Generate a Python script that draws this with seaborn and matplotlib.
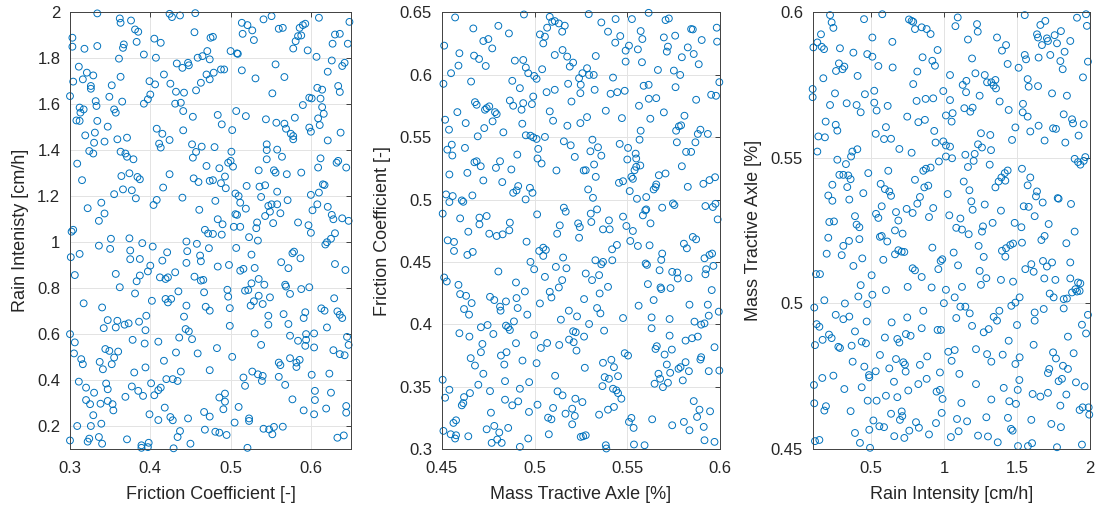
import matplotlib
matplotlib.use("Agg")
import matplotlib.pyplot as plt
from matplotlib.ticker import FuncFormatter
import seaborn as sns
import pandas as pd

# Sampled parameter sets: (friction coefficient, rain intensity)
friction_vs_rain = [
    (0.334,1.996),(0.362,1.974),(0.363,1.955),(0.376,1.965),(0.381,1.926),(0.385,1.916),(0.303,1.890),(0.303,1.851),
    (0.318,1.842),(0.334,1.854),(0.367,1.861),(0.366,1.846),(0.383,1.872),(0.405,1.886),(0.413,1.868),(0.392,1.817),
    (0.407,1.803),(0.361,1.799),(0.311,1.764),(0.321,1.738),(0.329,1.726),(0.304,1.699),(0.316,1.709),(0.326,1.680),
    (0.326,1.668),(0.352,1.683),(0.363,1.720),(0.417,1.730),(0.399,1.701),(0.406,1.687),(0.425,1.690),(0.432,1.655),
    (0.400,1.643),(0.397,1.622),(0.392,1.603),(0.300,1.636),(0.349,1.633),(0.332,1.614),(0.333,1.593),(0.365,1.612),
    (0.312,1.586),(0.317,1.578),(0.313,1.564),(0.355,1.578),(0.357,1.564),(0.308,1.530),(0.312,1.528),(0.334,1.528),
    (0.347,1.503),(0.431,1.603),(0.438,1.607),(0.441,1.571),(0.453,1.546),(0.442,1.651),(0.433,1.778),(0.440,1.759),
    (0.447,1.781),(0.448,1.770),(0.459,1.803),(0.465,1.810),(0.471,1.832),(0.474,1.796),(0.455,1.914),(0.475,1.890),
    (0.424,1.994),(0.427,1.980),(0.437,1.987),(0.456,1.997),(0.470,1.730),(0.474,1.709),(0.463,1.694),(0.457,1.661),
    (0.319,1.465),(0.331,1.477),(0.330,1.433),(0.343,1.438),(0.359,1.448),(0.371,1.455),(0.408,1.494),(0.415,1.472),
    (0.411,1.429),(0.413,1.412),(0.424,1.445),(0.441,1.487),(0.324,1.397),(0.329,1.386),(0.363,1.394),(0.369,1.386),
    (0.371,1.372),(0.379,1.361),(0.452,1.426),(0.457,1.393),(0.453,1.368),(0.464,1.416),(0.309,1.342),(0.315,1.270),
    (0.364,1.288),(0.374,1.300),(0.384,1.284),(0.387,1.274),(0.424,1.296),(0.454,1.278),(0.460,1.262),(0.470,1.332),
    (0.474,1.267),(0.355,1.209),(0.366,1.230),(0.377,1.226),(0.382,1.191),(0.416,1.238),(0.408,1.184),(0.404,1.162),
    (0.440,1.194),(0.339,1.172),(0.322,1.148),(0.343,1.125),(0.336,1.093),(0.461,1.141),(0.304,1.054),(0.302,1.046),
    (0.468,1.054),(0.472,1.038),
    (0.478,1.894),(0.479,1.738),(0.488,1.752),(0.492,1.752),(0.500,1.832),(0.508,1.822),(0.509,1.820),(0.514,1.748),
    (0.514,1.955),(0.521,1.945),(0.515,1.907),(0.527,1.922),(0.529,1.880),(0.541,1.970),(0.551,1.984),(0.560,1.929),
    (0.565,1.933),(0.531,1.713),(0.556,1.774),(0.567,1.719),(0.552,1.648),(0.578,1.843),(0.581,1.875),(0.584,1.897),
    (0.588,1.900),(0.586,1.933),(0.590,1.945),(0.593,1.951),(0.596,1.835),(0.610,1.977),(0.607,1.807),(0.627,1.864),
    (0.630,1.904),(0.636,1.907),(0.646,1.864),(0.648,1.959),(0.626,1.791),(0.621,1.742),(0.639,1.767),(0.642,1.781),
    (0.608,1.672),(0.614,1.664),(0.612,1.625),(0.598,1.629),(0.601,1.626),(0.634,1.680),(0.636,1.654),(0.590,1.597),
    (0.614,1.588),(0.616,1.559),(0.609,1.539),(0.611,1.510),(0.484,1.554),(0.489,1.513),(0.502,1.488),(0.507,1.571),
    (0.519,1.549),(0.544,1.535),(0.557,1.520),(0.567,1.516),(0.569,1.494),(0.575,1.472),(0.578,1.462),(0.578,1.448),
    (0.580,1.542),(0.598,1.499),(0.600,1.481),(0.621,1.443),(0.637,1.477),(0.480,1.414),(0.501,1.394),(0.497,1.346),
    (0.500,1.354),(0.503,1.329),(0.486,1.322),(0.545,1.426),(0.545,1.401),(0.545,1.361),(0.558,1.403),(0.564,1.372),
    (0.535,1.313),(0.554,1.313),(0.556,1.303),(0.570,1.296),(0.588,1.303),(0.612,1.365),(0.609,1.325),(0.632,1.346),
    (0.634,1.354),(0.644,1.325),(0.478,1.270),(0.488,1.257),(0.493,1.286),(0.494,1.235),(0.520,1.245),(0.536,1.242),
    (0.543,1.248),(0.506,1.212),(0.510,1.201),(0.512,1.172),(0.519,1.146),(0.538,1.197),(0.558,1.220),(0.571,1.183),
    (0.600,1.206),(0.610,1.216),(0.615,1.252),(0.617,1.249),(0.608,1.165),(0.481,1.180),(0.621,1.154),(0.547,1.158),
    (0.551,1.165),(0.558,1.165),(0.549,1.133),(0.562,1.126),(0.506,1.122),(0.508,1.119),(0.543,1.114),(0.484,1.100),
    (0.490,1.078),(0.533,1.086),(0.553,1.083),(0.584,1.086),(0.597,1.074),(0.602,1.139),(0.626,1.119),(0.628,1.100),
    (0.639,1.104),(0.647,1.093),(0.504,1.067),(0.512,1.067),(0.532,1.061),
    (0.351,1.015),(0.374,1.017),(0.390,0.996),(0.403,0.981),(0.336,0.985),(0.350,0.971),(0.375,0.964),(0.375,0.926),
    (0.387,0.927),(0.301,0.935),(0.312,0.949),(0.400,0.898),(0.397,0.873),(0.387,0.855),(0.383,0.830),(0.415,0.920),
    (0.421,0.956),(0.412,0.847),(0.419,0.840),(0.422,0.847),(0.431,0.869),(0.445,1.003),(0.458,0.993),(0.473,0.974),
    (0.446,0.961),(0.462,0.942),(0.463,0.917),(0.445,0.910),(0.455,0.850),(0.463,0.833),(0.466,0.836),(0.306,0.857),
    (0.357,0.862),(0.362,0.804),(0.381,0.777),(0.402,0.745),(0.435,0.786),(0.419,0.753),(0.422,0.738),(0.426,0.753),
    (0.467,0.782),(0.317,0.734),(0.340,0.716),(0.445,0.724),(0.469,0.719),(0.474,0.702),(0.442,0.676),(0.347,0.661),
    (0.342,0.626),(0.357,0.629),(0.359,0.658),(0.368,0.641),(0.373,0.647),(0.386,0.654),(0.395,0.680),(0.394,0.617),
    (0.300,0.600),(0.306,0.564),(0.378,0.575),(0.393,0.559),(0.410,0.567),(0.436,0.585),(0.444,0.622),(0.448,0.612),
    (0.452,0.578),(0.305,0.516),(0.314,0.491),(0.316,0.469),(0.337,0.479),(0.341,0.447),(0.344,0.535),(0.349,0.527),
    (0.352,0.469),(0.355,0.498),(0.360,0.524),(0.380,0.433),(0.394,0.455),(0.417,0.484),(0.432,0.520),(0.459,0.516),
    (0.474,0.443),(0.438,0.437),(0.311,0.393),(0.320,0.367),(0.330,0.345),(0.345,0.385),(0.347,0.360),(0.377,0.372),
    (0.385,0.353),(0.391,0.331),(0.401,0.386),(0.405,0.334),(0.410,0.356),(0.413,0.367),(0.420,0.404),(0.428,0.404),
    (0.434,0.396),(0.320,0.313),(0.325,0.295),(0.338,0.297),(0.347,0.309),(0.353,0.295),(0.354,0.268),(0.369,0.327),
    (0.329,0.247),(0.418,0.280),(0.399,0.251),(0.425,0.239),(0.428,0.225),(0.410,0.226),(0.447,0.233),(0.467,0.261),
    (0.474,0.241),(0.309,0.200),(0.326,0.200),(0.339,0.210),(0.437,0.178),(0.434,0.152),(0.468,0.184),(0.300,0.137),
    (0.324,0.145),(0.322,0.132),(0.336,0.152),(0.340,0.123),(0.371,0.142),(0.389,0.116),(0.389,0.105),(0.398,0.127),
    (0.397,0.108),(0.429,0.103),(0.450,0.123),
    (0.478,1.036),(0.489,1.033),(0.523,1.022),(0.534,1.007),(0.600,1.041),(0.630,1.039),(0.625,1.015),(0.620,1.000),
    (0.618,0.990),(0.507,0.975),(0.526,0.946),(0.484,0.894),(0.498,0.901),(0.512,0.876),(0.516,0.884),(0.530,0.888),
    (0.563,0.913),(0.572,0.887),(0.577,0.952),(0.579,0.959),(0.587,0.930),(0.630,0.905),(0.643,0.879),(0.496,0.793),
    (0.497,0.763),(0.518,0.789),(0.522,0.792),(0.526,0.821),(0.535,0.840),(0.542,0.815),(0.535,0.767),(0.529,0.743),
    (0.525,0.724),(0.540,0.731),(0.549,0.760),(0.568,0.815),(0.569,0.807),(0.574,0.775),(0.588,0.796),(0.598,0.804),
    (0.629,0.756),(0.499,0.713),(0.547,0.680),(0.547,0.641),(0.566,0.687),(0.572,0.644),(0.593,0.695),(0.591,0.670),
    (0.613,0.712),(0.617,0.702),(0.633,0.699),(0.636,0.684),(0.639,0.670),(0.620,0.629),(0.499,0.636),(0.530,0.603),
    (0.538,0.553),(0.574,0.593),(0.584,0.571),(0.594,0.600),(0.594,0.575),(0.593,0.549),(0.604,0.603),(0.604,0.542),
    (0.628,0.530),(0.636,0.513),(0.642,0.508),(0.645,0.588),(0.647,0.553),(0.483,0.539),(0.502,0.501),(0.527,0.437),
    (0.534,0.425),(0.540,0.418),(0.539,0.396),(0.516,0.411),(0.518,0.375),(0.560,0.476),(0.562,0.465),(0.560,0.414),
    (0.568,0.379),(0.574,0.495),(0.582,0.476),(0.586,0.488),(0.582,0.457),(0.601,0.423),(0.623,0.428),(0.493,0.341),
    (0.486,0.324),(0.493,0.306),(0.491,0.273),(0.510,0.283),(0.505,0.215),(0.523,0.233),(0.523,0.222),(0.577,0.316),
    (0.591,0.268),(0.605,0.353),(0.605,0.313),(0.604,0.251),(0.625,0.345),(0.619,0.276),(0.644,0.287),(0.644,0.258),
    (0.481,0.175),(0.486,0.171),(0.495,0.161),(0.521,0.105),(0.541,0.188),(0.548,0.185),(0.554,0.196),(0.552,0.164),
    (0.565,0.197),(0.633,0.149),(0.641,0.159),
]

# Sampled parameter sets: (mass on tractive axle, friction coefficient)
mass_vs_friction = [
    (0.4572,0.6460),(0.4670,0.6372),(0.4805,0.6393),(0.4862,0.6332),(0.4943,0.6484),(0.4513,0.6234),(0.4595,0.6173),
    (0.4674,0.6154),(0.4701,0.6127),(0.4724,0.6271),(0.4751,0.6287),(0.4772,0.6212),(0.4737,0.6071),(0.4590,0.6074),
    (0.4550,0.6013),(0.4894,0.6114),(0.4939,0.6119),(0.4953,0.6058),(0.4966,0.6013),(0.4998,0.5991),(0.5011,0.5968),
    (0.5041,0.6045),(0.5029,0.6324),(0.5056,0.6306),(0.5047,0.6252),(0.5068,0.6378),(0.5082,0.6465),(0.5095,0.6425),
    (0.5109,0.6431),(0.5131,0.6412),(0.5163,0.6394),(0.5149,0.6346),(0.5109,0.6159),(0.5151,0.6199),(0.5176,0.6146),
    (0.5190,0.6066),(0.5208,0.6098),(0.5240,0.5973),(0.5258,0.6013),(0.4509,0.5928),(0.4658,0.5946),(0.4880,0.5952),
    (0.4921,0.5893),(0.4993,0.5826),(0.4867,0.5794),(0.4885,0.5752),(0.4939,0.5773),(0.4930,0.5720),(0.4986,0.5765),
    (0.5065,0.5861),(0.5109,0.5880),(0.5181,0.5928),(0.5249,0.5920),(0.5247,0.5853),(0.5199,0.5786),(0.4679,0.5781),
    (0.4688,0.5760),(0.4742,0.5733),(0.4756,0.5747),(0.4733,0.5720),(0.4787,0.5701),(0.4796,0.5685),(0.4774,0.5627),
    (0.4584,0.5701),(0.4518,0.5640),(0.4539,0.5560),(0.4629,0.5613),(0.4729,0.5573),(0.4832,0.5539),(0.4934,0.5608),
    (0.4953,0.5515),(0.4978,0.5512),(0.4993,0.5499),(0.5011,0.5486),(0.5056,0.5502),(0.5082,0.5707),(0.5100,0.5632),
    (0.5177,0.5592),(0.5247,0.5613),(0.4554,0.5440),(0.4530,0.5400),(0.4557,0.5353),(0.4625,0.5414),(0.4694,0.5507),
    (0.4676,0.5299),(0.4688,0.5307),(0.4710,0.5267),(0.4814,0.5307),(0.4792,0.5254),(0.4638,0.5214),(0.4541,0.5201),
    (0.4724,0.5153),(0.4826,0.5140),(0.4875,0.5241),(0.4907,0.5360),(0.5020,0.5406),(0.5016,0.5329),(0.5038,0.5289),
    (0.5118,0.5233),(0.5158,0.5467),(0.5195,0.5435),(0.5217,0.5342),(0.5265,0.5233),(0.4523,0.5041),(0.4559,0.5028),
    (0.4541,0.4980),(0.4608,0.4993),(0.4616,0.4982),(0.4665,0.5033),(0.4885,0.5054),(0.4912,0.5108),(0.4903,0.5073),
    (0.4975,0.5094),(0.4989,0.5054),(0.4952,0.5001),(0.5158,0.4935),(0.5168,0.4903),(0.5014,0.4881),(0.4505,0.4887),
    (0.4599,0.4849),(0.4703,0.4855),(0.4742,0.4868),(0.4703,0.4801),(0.4867,0.4815),(0.5136,0.4793),(0.5235,0.4809),
    (0.5244,0.4779),
    (0.5292,0.6487),(0.5360,0.6420),(0.5396,0.6346),(0.5437,0.6447),(0.5525,0.6447),(0.5615,0.6497),(0.5706,0.6439),
    (0.5724,0.6452),(0.5572,0.6351),(0.5581,0.6287),(0.5462,0.6311),(0.5435,0.6258),(0.5509,0.6234),(0.5491,0.6194),
    (0.5557,0.6204),(0.5491,0.6106),(0.5579,0.6101),(0.5330,0.6151),(0.5697,0.6300),(0.5758,0.6314),(0.5719,0.6226),
    (0.5713,0.6186),(0.5665,0.6039),(0.5751,0.6034),(0.5785,0.5999),(0.5794,0.6141),(0.5826,0.6220),(0.5858,0.6167),
    (0.5844,0.6367),(0.5853,0.6364),(0.5901,0.6279),(0.5885,0.6085),(0.5982,0.6378),(0.5984,0.6266),(0.5283,0.6053),
    (0.5294,0.5999),(0.5319,0.5999),(0.5423,0.5978),(0.5324,0.5880),(0.5410,0.5848),(0.5446,0.5861),(0.5486,0.5872),
    (0.5588,0.5912),(0.5615,0.5920),(0.5760,0.5901),(0.5616,0.5808),(0.5656,0.5813),(0.5384,0.5712),(0.5563,0.5752),
    (0.5697,0.5699),(0.5283,0.5661),(0.5471,0.5653),(0.5624,0.5648),(0.5808,0.5672),(0.5871,0.5800),(0.5952,0.5840),
    (0.5978,0.5832),(0.5996,0.5941),(0.5572,0.5552),(0.5566,0.5480),(0.5763,0.5552),(0.5778,0.5587),(0.5790,0.5595),
    (0.5894,0.5560),(0.5880,0.5526),(0.5934,0.5526),(0.5767,0.5459),(0.5867,0.5459),(0.5817,0.5382),(0.5844,0.5382),
    (0.5312,0.5480),(0.5301,0.5387),(0.5342,0.5419),(0.5360,0.5352),(0.5459,0.5446),(0.5504,0.5414),(0.5500,0.5321),
    (0.5545,0.5368),(0.5548,0.5329),(0.5548,0.5262),(0.5570,0.5273),(0.5539,0.5235),(0.5321,0.5281),(0.5276,0.5235),
    (0.5330,0.5182),(0.5522,0.5182),(0.5530,0.5166),(0.5455,0.5134),(0.5477,0.5147),(0.5513,0.5068),(0.5670,0.5195),
    (0.5706,0.5209),(0.5642,0.5081),(0.5652,0.5100),(0.5656,0.5121),(0.5794,0.5267),(0.5826,0.5102),(0.5910,0.5126),
    (0.5943,0.5156),(0.5973,0.5179),(0.5289,0.5081),(0.5315,0.5014),(0.5552,0.5006),(0.5602,0.5020),(0.5303,0.4887),
    (0.5337,0.4921),(0.5306,0.4820),(0.5477,0.4863),(0.5584,0.4873),(0.5597,0.4913),(0.5602,0.4921),(0.5688,0.4935),
    (0.5746,0.4969),(0.5754,0.4956),(0.5921,0.4948),(0.5961,0.4940),(0.5975,0.4966),(0.5987,0.4841),(0.5401,0.4833),
    (0.5369,0.4761),(0.5405,0.4761),(0.5495,0.4788),(0.5530,0.4748),(0.5625,0.4809),
    (0.4643,0.4742),(0.4756,0.4726),(0.4796,0.4708),(0.4828,0.4721),(0.4864,0.4753),(0.4532,0.4673),(0.4566,0.4660),
    (0.4566,0.4588),(0.4638,0.4556),(0.4667,0.4580),(0.4957,0.4662),(0.5025,0.4588),(0.5047,0.4614),(0.5061,0.4596),
    (0.5047,0.4548),(0.4978,0.4500),(0.4998,0.4441),(0.5122,0.4726),(0.5240,0.4694),(0.5154,0.4535),(0.5115,0.4460),
    (0.5172,0.4449),(0.5056,0.4380),(0.4805,0.4423),(0.4513,0.4375),(0.4527,0.4343),(0.4590,0.4316),(0.4599,0.4242),
    (0.4631,0.4228),(0.4661,0.4170),(0.4620,0.4122),(0.4647,0.4077),(0.4760,0.4220),(0.4783,0.4194),(0.4846,0.4183),
    (0.4900,0.4335),(0.4948,0.4263),(0.4903,0.4210),(0.4814,0.4141),(0.4817,0.4109),(0.4909,0.4130),(0.4961,0.4077),
    (0.5029,0.4167),(0.5082,0.4260),(0.5091,0.4215),(0.5131,0.4295),(0.5149,0.4354),(0.5185,0.4109),(0.5229,0.4063),
    (0.5142,0.4037),(0.4711,0.3976),(0.4747,0.3994),(0.4778,0.3922),(0.4846,0.3989),(0.4858,0.3976),(0.4867,0.3954),
    (0.4889,0.4023),(0.4595,0.3928),(0.4649,0.3901),(0.4719,0.3842),(0.4711,0.3776),(0.4656,0.3728),(0.4679,0.3669),
    (0.4724,0.3603),(0.4819,0.3749),(0.4837,0.3677),(0.4849,0.3776),(0.4900,0.3848),(0.4935,0.3709),(0.4998,0.3914),
    (0.5034,0.3810),(0.5011,0.3688),(0.5068,0.3850),(0.5133,0.3834),(0.5186,0.3877),(0.5208,0.3944),(0.5222,0.3936),
    (0.5211,0.3856),(0.5226,0.3789),(0.5111,0.3587),(0.4841,0.3544),(0.4697,0.3515),(0.4505,0.3555),(0.4541,0.3475),
    (0.4518,0.3411),(0.4620,0.3416),(0.4608,0.3350),(0.4616,0.3368),(0.4652,0.3448),(0.4760,0.3464),(0.4841,0.3395),
    (0.4880,0.3350),(0.4912,0.3382),(0.4921,0.3483),(0.4971,0.3536),(0.4970,0.3297),(0.5016,0.3355),(0.5124,0.3462),
    (0.5151,0.3430),(0.5220,0.3403),(0.5100,0.3329),(0.5073,0.3251),(0.5091,0.3238),(0.5167,0.3283),(0.5203,0.3323),
    (0.5217,0.3265),(0.5203,0.3198),(0.4765,0.3291),(0.4577,0.3230),(0.4563,0.3209),(0.4509,0.3145),(0.4548,0.3118),
    (0.4577,0.3110),(0.4572,0.3084),(0.4643,0.3102),(0.4742,0.3158),(0.4783,0.3185),(0.4810,0.3132),(0.4858,0.3169),
    (0.4769,0.3049),(0.4799,0.3076),(0.4823,0.3049),(0.4921,0.3017),(0.4966,0.3084),(0.5077,0.3118),(0.5249,0.3097),
    (0.5516,0.4668),(0.5557,0.4628),(0.5620,0.4633),(0.5805,0.4646),(0.5821,0.4609),(0.5853,0.4700),(0.5871,0.4681),
    (0.5418,0.4601),(0.5444,0.4636),(0.5328,0.4513),(0.5360,0.4481),(0.5369,0.4500),(0.5419,0.4513),(0.5276,0.4407),
    (0.5310,0.4354),(0.5348,0.4394),(0.5396,0.4300),(0.5351,0.4247),(0.5267,0.4202),(0.5337,0.4130),(0.5355,0.4087),
    (0.5294,0.4002),(0.5267,0.3901),(0.5375,0.3949),(0.5477,0.4050),(0.5561,0.4149),(0.5599,0.4487),(0.5606,0.4476),
    (0.5688,0.4567),(0.5683,0.4516),(0.5674,0.4433),(0.5742,0.4420),(0.5769,0.4415),(0.5772,0.4367),(0.5611,0.4322),
    (0.5679,0.4295),(0.5683,0.4282),(0.5733,0.4290),(0.5830,0.4370),(0.5921,0.4401),(0.5925,0.4441),(0.5964,0.4468),
    (0.5916,0.4529),(0.5943,0.4556),(0.5957,0.4567),(0.5955,0.4274),(0.5642,0.4194),(0.5631,0.4055),(0.5631,0.3968),
    (0.5728,0.4042),(0.5835,0.4157),(0.5934,0.4157),(0.5993,0.4101),(0.5939,0.4069),(0.5898,0.3997),(0.5916,0.4007),
    (0.5862,0.4021),(0.5728,0.3909),(0.5659,0.3824),(0.5652,0.3802),(0.5701,0.3757),(0.5740,0.3797),(0.5814,0.3869),
    (0.5849,0.3888),(0.5880,0.3901),(0.5970,0.3816),(0.5486,0.3768),(0.5504,0.3749),(0.5271,0.3651),(0.5369,0.3691),
    (0.5414,0.3715),(0.5428,0.3656),(0.5450,0.3584),(0.5378,0.3576),(0.5401,0.3563),(0.5366,0.3504),(0.5423,0.3483),
    (0.5441,0.3470),(0.5450,0.3448),(0.5468,0.3403),(0.5668,0.3603),(0.5677,0.3563),(0.5692,0.3496),(0.5647,0.3523),
    (0.5719,0.3531),(0.5713,0.3677),(0.5731,0.3611),(0.5776,0.3643),(0.5787,0.3656),(0.5814,0.3696),(0.5832,0.3624),
    (0.5799,0.3550),(0.5898,0.3736),(0.5894,0.3717),(0.5939,0.3624),(0.5996,0.3629),(0.5258,0.3376),(0.5348,0.3275),
    (0.5396,0.3315),(0.5428,0.3337),(0.5509,0.3217),(0.5522,0.3249),(0.5534,0.3169),(0.5634,0.3238),(0.5742,0.3190),
    (0.5805,0.3217),(0.5835,0.3150),(0.5858,0.3384),(0.5889,0.3315),(0.5876,0.3257),(0.5946,0.3302),(0.5912,0.3177),
    (0.5262,0.3102),(0.5276,0.3110),(0.5384,0.3030),(0.5387,0.3004),(0.5536,0.3036),(0.5593,0.3030),(0.5916,0.3070),
    (0.5970,0.3057),
]

# Sampled parameter sets: (rain intensity, mass on tractive axle)
rain_vs_mass = [
    (0.219,0.5991),(0.230,0.5966),(0.242,0.5947),(0.157,0.5925),(0.132,0.5897),(0.105,0.5880),(0.162,0.5882),(0.178,0.5874),
    (0.452,0.5977),(0.577,0.5994),(0.509,0.5914),(0.646,0.5899),(0.760,0.5976),(0.778,0.5971),(0.789,0.5968),(0.801,0.5943),
    (0.847,0.5949),(0.881,0.5943),(0.908,0.5926),(0.956,0.5871),(0.287,0.5877),(0.379,0.5862),(0.474,0.5857),(0.509,0.5848),
    (0.280,0.5825),(0.317,0.5814),(0.305,0.5805),(0.260,0.5799),(0.550,0.5816),(0.648,0.5811),(0.408,0.5782),(0.173,0.5774),
    (0.853,0.5846),(0.920,0.5834),(0.938,0.5817),(0.817,0.5797),(0.789,0.5754),(1.041,0.5785),(0.100,0.5737),(0.100,0.5709),
    (0.253,0.5722),(0.522,0.5731),(0.458,0.5719),(0.219,0.5682),(0.333,0.5688),(0.401,0.5682),(0.429,0.5657),(0.522,0.5690),
    (0.538,0.5663),(0.614,0.5679),(0.812,0.5696),(0.874,0.5703),(0.926,0.5705),(0.995,0.5730),(1.041,0.5699),(1.013,0.5646),
    (1.052,0.5625),(0.748,0.5642),(0.824,0.5623),(0.869,0.5631),(0.189,0.5625),(0.258,0.5614),(0.269,0.5594),(0.139,0.5574),
    (0.184,0.5571),(0.532,0.5583),(0.602,0.5606),(0.589,0.5565),(0.637,0.5566),(0.694,0.5531),(0.778,0.5518),(0.933,0.5593),
    (0.942,0.5553),(0.995,0.5557),(1.013,0.5543),(1.041,0.5539),(0.132,0.5522),(0.406,0.5530),(0.372,0.5522),(0.363,0.5505),
    (0.269,0.5494),(0.328,0.5479),(0.481,0.5448),(0.283,0.5442),(0.310,0.5442),(0.344,0.5440),(0.360,0.5427),(0.618,0.5456),
    (0.801,0.5425),(0.858,0.5456),(0.876,0.5463),(0.908,0.5467),(0.965,0.5488),(1.013,0.5505),(0.235,0.5408),(0.337,0.5400),
    (0.566,0.5411),(0.595,0.5393),(0.625,0.5385),(0.637,0.5370),(0.447,0.5379),(0.207,0.5371),(0.235,0.5353),(0.351,0.5357),
    (0.865,0.5399),(0.892,0.5405),(0.835,0.5366),(0.817,0.5343),(0.744,0.5325),(0.785,0.5311),(1.025,0.5376),(0.926,0.5328),
    (0.573,0.5334),(0.390,0.5300),(0.534,0.5308),(0.550,0.5294),(0.671,0.5314),(0.687,0.5285),(0.897,0.5297),(1.036,0.5303),
    (0.214,0.5280),(0.246,0.5282),(0.401,0.5271),(0.420,0.5262),
    (1.094,0.5983),(1.078,0.5953),(1.226,0.5960),(1.231,0.5934),(1.164,0.5907),(1.363,0.5914),(1.425,0.5888),(1.397,0.5869),
    (1.192,0.5842),(1.436,0.5823),(1.511,0.5810),(1.553,0.5991),(1.553,0.5854),(1.562,0.5839),(1.648,0.5845),(1.660,0.5957),
    (1.694,0.5971),(1.637,0.5925),(1.644,0.5914),(1.671,0.5888),(1.705,0.5911),(1.712,0.5902),(1.758,0.5922),(1.801,0.5936),
    (1.774,0.5894),(1.728,0.5854),(1.826,0.5865),(1.865,0.5902),(1.797,0.5833),(1.813,0.5805),(1.911,0.5982),(1.973,0.5994),
    (1.979,0.5954),(1.986,0.5831),(1.952,0.5777),(1.215,0.5791),(1.279,0.5785),(1.295,0.5760),(1.324,0.5760),(1.352,0.5768),
    (1.340,0.5749),(1.356,0.5739),(1.128,0.5751),(1.153,0.5765),(1.151,0.5726),(1.244,0.5714),(1.381,0.5694),(1.443,0.5665),
    (1.139,0.5671),(1.196,0.5673),(1.180,0.5659),(1.059,0.5654),(1.573,0.5771),(1.580,0.5745),(1.644,0.5747),(1.541,0.5686),
    (1.539,0.5657),(1.573,0.5642),(1.740,0.5722),(1.842,0.5714),(1.820,0.5650),(1.877,0.5633),(1.884,0.5619),(1.957,0.5616),
    (1.922,0.5577),(1.831,0.5553),(1.689,0.5560),(1.747,0.5602),(1.767,0.5600),(1.648,0.5611),(1.591,0.5591),(1.489,0.5605),
    (1.466,0.5562),(1.253,0.5585),(1.317,0.5579),(1.233,0.5547),(1.260,0.5536),(1.322,0.5527),(1.055,0.5499),(1.146,0.5511),
    (1.210,0.5514),(1.203,0.5490),(1.164,0.5469),(1.313,0.5477),(1.135,0.5419),(1.174,0.5389),(1.352,0.5399),(1.374,0.5419),
    (1.393,0.5433),(1.416,0.5448),(1.436,0.5457),(1.420,0.5422),(1.534,0.5463),(1.591,0.5433),(1.573,0.5406),(1.637,0.5385),
    (1.630,0.5368),(1.676,0.5347),(1.779,0.5362),(1.785,0.5360),(1.870,0.5342),(1.895,0.5497),(1.918,0.5486),(1.934,0.5477),
    (1.957,0.5490),(1.968,0.5503),(1.187,0.5351),(1.196,0.5322),(1.279,0.5340),(1.390,0.5319),(1.112,0.5292),(1.546,0.5334),
    (1.580,0.5332),(1.621,0.5300),(1.484,0.5277),(1.530,0.5262),(1.717,0.5273),(1.267,0.5265),(1.333,0.5277),(1.084,0.5260),
    (1.123,0.5254),
    (0.207,0.5226),(0.310,0.5198),(0.349,0.5215),(0.420,0.5221),(0.561,0.5229),(0.573,0.5232),(0.611,0.5213),(0.664,0.5251),
    (0.716,0.5240),(0.196,0.5171),(0.299,0.5166),(0.440,0.5155),(0.584,0.5150),(0.664,0.5169),(0.687,0.5183),(0.710,0.5178),
    (0.728,0.5177),(0.379,0.5129),(0.504,0.5097),(0.123,0.5101),(0.150,0.5101),(0.429,0.5063),(0.413,0.5024),(0.509,0.5030),
    (0.602,0.5046),(0.751,0.5057),(0.785,0.5121),(0.801,0.5114),(0.847,0.5091),(0.920,0.5192),(0.961,0.5118),(0.977,0.5146),
    (0.988,0.5152),(0.915,0.5055),(1.013,0.5047),(0.999,0.5001),(0.180,0.5011),(0.111,0.4986),(0.321,0.5000),(0.474,0.4998),
    (0.258,0.4961),(0.310,0.4946),(0.351,0.4955),(0.127,0.4929),(0.146,0.4920),(0.390,0.4904),(0.470,0.4938),(0.641,0.4935),
    (0.748,0.4952),(0.858,0.4975),(0.847,0.4915),(0.956,0.4909),(0.979,0.4909),(0.212,0.4893),(0.230,0.4881),(0.168,0.4875),
    (0.116,0.4857),(0.276,0.4851),(0.287,0.4847),(0.367,0.4855),(0.436,0.4869),(0.465,0.4863),(0.595,0.4883),(0.680,0.4878),
    (0.694,0.4866),(0.739,0.4895),(0.771,0.4889),(0.561,0.4823),(0.374,0.4800),(0.454,0.4783),(0.486,0.4754),(0.488,0.4746),
    (0.532,0.4767),(0.625,0.4777),(0.671,0.4809),(0.721,0.4798),(0.732,0.4790),(0.737,0.4766),(0.835,0.4789),(0.885,0.4818),
    (1.029,0.4834),(1.052,0.4803),(0.972,0.4763),(0.166,0.4744),(0.242,0.4752),(0.109,0.4720),(0.317,0.4706),(0.436,0.4712),
    (0.657,0.4731),(0.824,0.4723),(0.881,0.4741),(0.755,0.4701),(0.602,0.4683),(0.538,0.4666),(0.477,0.4666),(0.680,0.4678),
    (0.949,0.4697),(0.972,0.4703),(0.990,0.4672),(0.111,0.4657),(0.191,0.4647),(0.180,0.4632),(0.360,0.4630),(0.637,0.4621),
    (0.710,0.4629),(0.714,0.4613),(0.698,0.4600),(0.984,0.4624),(0.516,0.4598),(0.557,0.4578),(0.589,0.4575),(0.488,0.4566),
    (0.390,0.4555),(0.762,0.4563),(0.808,0.4592),(0.828,0.4573),(0.897,0.4550),(0.945,0.4589),(0.659,0.4544),(0.728,0.4538),
    (0.424,0.4521),(0.493,0.4504),(0.116,0.4527),(0.146,0.4531),(1.047,0.4541),
    (1.169,0.5238),(1.260,0.5247),(1.237,0.5198),(1.272,0.5160),(1.066,0.5175),(1.096,0.5131),(1.123,0.5057),(1.073,0.5021),
    (1.244,0.5112),(1.290,0.5087),(1.253,0.5064),(1.390,0.5081),(1.473,0.5075),(1.397,0.5181),(1.425,0.5190),(1.454,0.5201),
    (1.473,0.5206),(1.420,0.5161),(1.534,0.5209),(1.667,0.5218),(1.689,0.5232),(1.895,0.5247),(1.838,0.5207),(1.557,0.5118),
    (1.598,0.5135),(1.614,0.5109),(1.678,0.5146),(1.705,0.5127),(1.740,0.5141),(1.687,0.5086),(1.763,0.5081),(1.865,0.5141),
    (1.865,0.5086),(1.724,0.5034),(1.751,0.5021),(1.918,0.5072),(1.934,0.5069),(1.900,0.5049),(1.911,0.5041),(1.929,0.5043),
    (1.877,0.5038),(1.842,0.5017),(1.820,0.5015),(1.112,0.4989),(1.146,0.4989),(1.176,0.4966),(1.084,0.4950),(1.192,0.4923),
    (1.272,0.4901),(1.306,0.4912),(1.340,0.4954),(1.363,0.4941),(1.379,0.4975),(1.461,0.4992),(1.489,0.5003),(1.518,0.5021),
    (1.500,0.4926),(1.621,0.4969),(1.621,0.4941),(1.683,0.4981),(1.820,0.4983),(1.986,0.4961),(1.945,0.4927),(1.973,0.4897),
    (1.849,0.4886),(1.443,0.4872),(1.614,0.4858),(1.073,0.4840),(1.219,0.4843),(1.295,0.4826),(1.324,0.4800),(1.402,0.4824),
    (1.518,0.4815),(1.489,0.4792),(1.747,0.4832),(1.767,0.4811),(1.888,0.4829),(1.815,0.4786),(1.849,0.4775),(1.721,0.4775),
    (1.712,0.4761),(1.785,0.4733),(1.808,0.4741),(1.904,0.4729),(1.963,0.4715),(1.105,0.4758),(1.219,0.4723),(1.409,0.4710),
    (1.516,0.4737),(1.505,0.4703),(1.607,0.4689),(1.660,0.4680),(1.712,0.4693),(1.838,0.4687),(1.797,0.4649),(1.119,0.4658),
    (1.324,0.4670),(1.447,0.4664),(1.493,0.4655),(1.929,0.4634),(1.950,0.4643),(1.991,0.4643),(1.995,0.4618),(1.089,0.4603),
    (1.158,0.4595),(1.290,0.4609),(1.438,0.4607),(1.598,0.4600),(1.459,0.4569),(1.470,0.4563),(1.735,0.4586),(1.801,0.4575),
    (1.100,0.4561),(1.233,0.4546),(1.301,0.4543),(1.368,0.4523),(1.507,0.4510),(1.575,0.4510),(1.603,0.4520),(1.774,0.4506),
    (1.945,0.4515),
]

# Axis ranges and ticks for each quantity
friction_lim = (0.3, 0.65)
friction_ticks = [0.3, 0.4, 0.5, 0.6]
friction_ticks_fine = [0.3, 0.35, 0.4, 0.45, 0.5, 0.55, 0.6, 0.65]
rain_lim = (0.1, 2.0)
rain_ticks = [0.2, 0.4, 0.6, 0.8, 1.0, 1.2, 1.4, 1.6, 1.8, 2.0]
rain_ticks_coarse = [0.5, 1.0, 1.5, 2.0]
mass_lim = (0.45, 0.6)
mass_ticks = [0.45, 0.5, 0.55, 0.6]

panels = [
    dict(data=friction_vs_rain, xlabel="Friction Coefficient [-]", ylabel="Rain Intenisty [cm/h]",
         xlim=friction_lim, ylim=rain_lim, xticks=friction_ticks, yticks=rain_ticks),
    dict(data=mass_vs_friction, xlabel="Mass Tractive Axle [%]", ylabel="Friction Coefficient [-]",
         xlim=mass_lim, ylim=friction_lim, xticks=mass_ticks, yticks=friction_ticks_fine),
    dict(data=rain_vs_mass, xlabel="Rain Intensity [cm/h]", ylabel="Mass Tractive Axle [%]",
         xlim=rain_lim, ylim=mass_lim, xticks=rain_ticks_coarse, yticks=mass_ticks),
]

sns.set_style("white")
plt.rcParams["font.family"] = ["Liberation Sans", "DejaVu Sans"]

BLUE = "#0072BD"
INK = "#262626"

fig = plt.figure(figsize=(10.97, 5.13), dpi=100)
lefts = [0.0638, 0.4027, 0.7408]
widths = [0.2562, 0.2537, 0.2528]

fmt = FuncFormatter(lambda v, _: f"{v:g}")

for left, width, p in zip(lefts, widths, panels):
    ax = fig.add_axes([left, 0.1248, width, 0.8509])
    df = pd.DataFrame(p["data"], columns=["x", "y"])
    sns.scatterplot(data=df, x="x", y="y", ax=ax, marker="o", s=24, linewidth=0.7)
    pts = ax.collections[-1]
    pts.set_facecolor("none")
    pts.set_edgecolor(BLUE)
    pts.set_clip_on(False)

    ax.set_xlim(*p["xlim"])
    ax.set_ylim(*p["ylim"])
    ax.set_xticks(p["xticks"])
    ax.set_yticks(p["yticks"])
    ax.xaxis.set_major_formatter(fmt)
    ax.yaxis.set_major_formatter(fmt)
    ax.set_xlabel(p["xlabel"], fontsize=13, color=INK, labelpad=7)
    ax.set_ylabel(p["ylabel"], fontsize=13, color=INK, labelpad=6)

    ax.set_axisbelow(True)
    ax.grid(True, color="#e3e3e3", linewidth=0.7)
    for sp in ax.spines.values():
        sp.set_visible(True)
        sp.set_color("#404040")
        sp.set_linewidth(0.7)
    ax.tick_params(axis="both", which="major", direction="in", length=3.5, width=0.6,
                   top=True, right=True, labelsize=12, colors=INK)
    ax.tick_params(axis="x", pad=9)
    ax.tick_params(axis="y", pad=7)

fig.savefig("out.png", dpi=100)
